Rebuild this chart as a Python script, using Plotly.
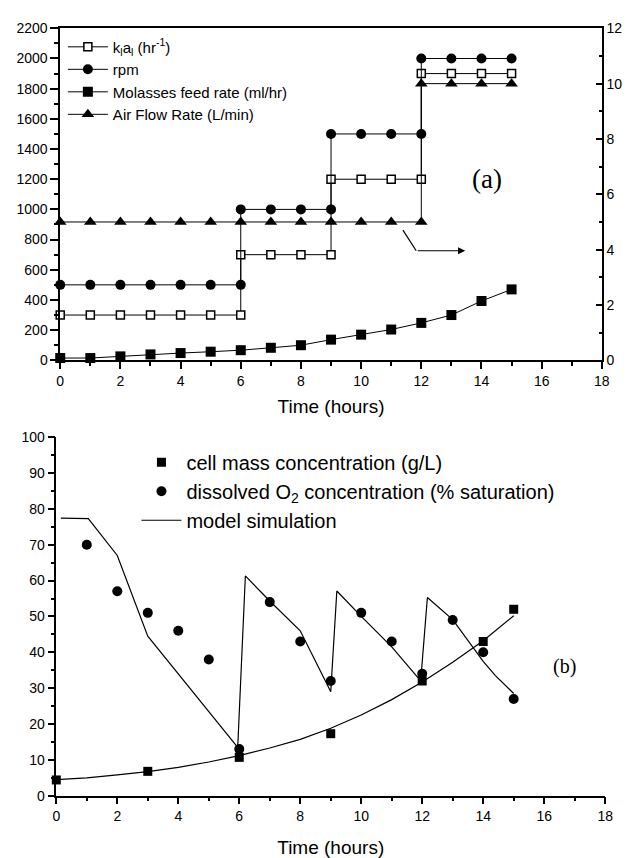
import plotly.graph_objects as go

# ---------------- Panel (a) data ----------------
kla_t = [0, 1, 2, 3, 4, 5, 6, 6, 7, 8, 9, 9, 10, 11, 12, 12, 13, 14, 15]
kla_v = [300, 300, 300, 300, 300, 300, 300, 700, 700, 700, 700,
         1200, 1200, 1200, 1200, 1900, 1900, 1900, 1900]

rpm_t = [0, 1, 2, 3, 4, 5, 6, 6, 7, 8, 9, 9, 10, 11, 12, 12, 13, 14, 15]
rpm_v = [500, 500, 500, 500, 500, 500, 500, 1000, 1000, 1000, 1000,
         1500, 1500, 1500, 1500, 2000, 2000, 2000, 2000]

mol_t = [0, 1, 2, 3, 4, 5, 6, 7, 8, 9, 10, 11, 12, 13, 14, 15]
mol_v = [15, 15, 26, 39, 48, 57, 67, 83, 100, 137, 170, 204, 248, 300, 393, 470]

air_t = [0, 1, 2, 3, 4, 5, 6, 7, 8, 9, 10, 11, 12, 12, 13, 14, 15]
air_v = [5, 5, 5, 5, 5, 5, 5, 5, 5, 5, 5, 5, 5, 10, 10, 10, 10]

# ---------------- Panel (b) data ----------------
cell_t = [0, 3, 6, 9, 12, 14, 15]
cell_v = [4.4, 6.8, 10.7, 17.3, 32, 43, 52]

do_t = [1, 2, 3, 4, 5, 6, 7, 8, 9, 10, 11, 12, 13, 14, 15]
do_v = [70, 57, 51, 46, 38, 13, 54, 43, 32, 51, 43, 34, 49, 40, 27]

mdo_t = [0.15, 1.05, 2.0, 3.0, 5.95, 6.2, 7.0, 8.0, 9.0, 9.2, 10.0, 11.0,
         11.95, 12.17, 13.0, 13.7, 14.0, 14.4, 15.0]
mdo_v = [77.4, 77.3, 67.0, 44.5, 13.5, 61.3, 54.3, 46.0, 29.0, 57.1, 50.0,
         41.5, 32.0, 55.3, 49.1, 41.0, 37.5, 33.5, 28.5]

mx_t = [0, 1, 2, 3, 4, 5, 6, 7, 8, 9, 10, 11, 12, 13, 14, 15]
mx_v = [4.5, 5.0, 5.8, 6.7, 7.9, 9.4, 11.2, 13.3, 15.7, 18.8, 22.5, 26.8,
        31.7, 37.2, 43.2, 50.2]

FONT = "Liberation Sans, Arial, Helvetica, sans-serif"
SERIF = "Liberation Serif, Times New Roman, serif"
BLK = "black"

fig = go.Figure()

# ---- panel (a) traces ----
fig.add_trace(go.Scatter(
    x=kla_t, y=kla_v, mode="lines+markers", name="k<sub>l</sub>a<sub>l</sub> (hr<sup>-1</sup>)",
    line=dict(color=BLK, width=1),
    marker=dict(symbol="square", size=8, color="white", line=dict(color=BLK, width=1.5)),
    xaxis="x", yaxis="y", legend="legend", cliponaxis=False))
fig.add_trace(go.Scatter(
    x=rpm_t, y=rpm_v, mode="lines+markers", name="rpm",
    line=dict(color=BLK, width=1),
    marker=dict(symbol="circle", size=10, color=BLK),
    xaxis="x", yaxis="y", legend="legend", cliponaxis=False))
fig.add_trace(go.Scatter(
    x=mol_t, y=mol_v, mode="lines+markers", name="Molasses feed rate (ml/hr)",
    line=dict(color=BLK, width=1),
    marker=dict(symbol="square", size=10, color=BLK),
    xaxis="x", yaxis="y", legend="legend", cliponaxis=False))
fig.add_trace(go.Scatter(
    x=air_t, y=air_v, mode="lines+markers", name="Air Flow Rate (L/min)",
    line=dict(color=BLK, width=1),
    marker=dict(symbol="triangle-up", size=11, color=BLK),
    xaxis="x", yaxis="y2", legend="legend", cliponaxis=False))

# ---- panel (b) traces ----
fig.add_trace(go.Scatter(
    x=cell_t, y=cell_v, mode="markers", name="cell mass concentration (g/L)",
    marker=dict(symbol="square", size=9, color=BLK),
    xaxis="x3", yaxis="y3", legend="legend2", cliponaxis=False))
fig.add_trace(go.Scatter(
    x=do_t, y=do_v, mode="markers",
    name="dissolved O<sub>2</sub> concentration (% saturation)",
    marker=dict(symbol="circle", size=10, color=BLK),
    xaxis="x3", yaxis="y3", legend="legend2", cliponaxis=False))
fig.add_trace(go.Scatter(
    x=mdo_t, y=mdo_v, mode="lines", name="model simulation",
    line=dict(color=BLK, width=1.2),
    xaxis="x3", yaxis="y3", legend="legend2", cliponaxis=False))
fig.add_trace(go.Scatter(
    x=mx_t, y=mx_v, mode="lines", name="model simulation (biomass)", showlegend=False,
    line=dict(color=BLK, width=1.2),
    xaxis="x3", yaxis="y3", cliponaxis=False))

H = 858.0
W = 638.0

tickfont = dict(family=FONT, size=14, color=BLK)
titlefont = dict(family=FONT, size=19, color=BLK)

common_x = dict(range=[0, 18], dtick=2, tick0=0, ticks="outside", ticklen=7, tickwidth=1.5,
                tickcolor=BLK, showline=True, linecolor=BLK, linewidth=1.5,
                showgrid=False, zeroline=False, tickfont=tickfont,
                minor=dict(dtick=1, ticks="outside", ticklen=4, tickwidth=1.5, tickcolor=BLK))

fig.update_layout(
    width=638, height=858,
    margin=dict(l=0, r=0, t=0, b=0),
    paper_bgcolor="white", plot_bgcolor="white",
    font=dict(family=FONT, color=BLK),
    xaxis=dict(domain=[57.3 / W, 609.3 / W], anchor="y", mirror=True,
               title=dict(text="Time (hours)", font=titlefont, standoff=12), **common_x),
    yaxis=dict(domain=[1 - 359 / H, 1 - 20.7 / H], anchor="x", range=[0, 2200], dtick=200,
               ticks="outside", ticklen=8, tickwidth=1.5, tickcolor=BLK,
               showline=True, linecolor=BLK, linewidth=1.5, showgrid=False, zeroline=False,
               tickfont=tickfont,
               minor=dict(dtick=100, ticks="outside", ticklen=4, tickwidth=1.5, tickcolor=BLK)),
    yaxis2=dict(overlaying="y", side="right", anchor="x", range=[0, 12], dtick=2,
                ticks="inside", ticklen=6, tickwidth=1.5, tickcolor=BLK,
                showline=True, linecolor=BLK, linewidth=1.5, showgrid=False, zeroline=False,
                tickfont=tickfont,
                minor=dict(dtick=1, ticks="inside", ticklen=3, tickwidth=1.5, tickcolor=BLK)),
    xaxis3=dict(domain=[53.3 / W, 612.7 / W], anchor="y3",
                title=dict(text="Time (hours)", font=titlefont, standoff=20), **common_x),
    yaxis3=dict(domain=[1 - 802.7 / H, 1 - 437.3 / H], anchor="x3", range=[0, 100], dtick=10,
                ticks="outside", ticklen=7, tickwidth=1.5, tickcolor=BLK,
                showline=True, linecolor=BLK, linewidth=1.5, showgrid=False, zeroline=False,
                tickfont=tickfont,
                minor=dict(dtick=5, ticks="outside", ticklen=4, tickwidth=1.5, tickcolor=BLK)),
    legend=dict(x=60 / W, y=1 - 23 / H, xanchor="left", yanchor="top",
                bgcolor="rgba(0,0,0,0)", font=dict(family=FONT, size=15, color=BLK),
                itemwidth=40, tracegroupgap=0),
    legend2=dict(x=135 / W, y=1 - 443 / H, xanchor="left", yanchor="top",
                 bgcolor="rgba(0,0,0,0)", font=dict(family=FONT, size=20, color=BLK),
                 itemwidth=40, tracegroupgap=0),
    showlegend=True,
)

# arrow pointing air flow to right axis
fig.add_shape(type="line", xref="x", yref="y", x0=11.39, y0=863, x1=11.83, y1=726,
              line=dict(color=BLK, width=1.2))
fig.add_annotation(xref="x", yref="y", axref="x", ayref="y", x=13.46, y=726, ax=11.83, ay=726,
                   text="", showarrow=True, arrowhead=2, arrowsize=1.2, arrowwidth=1.2,
                   arrowcolor=BLK)

fig.add_annotation(xref="paper", yref="paper", x=510 / W, y=1 - 156.7 / H, text="(a)",
                   showarrow=False, font=dict(family=SERIF, size=27, color=BLK))
fig.add_annotation(xref="paper", yref="paper", x=585 / W, y=1 - 685 / H, text="(b)",
                   showarrow=False, font=dict(family=SERIF, size=20, color=BLK))

fig.write_html("out.html")
